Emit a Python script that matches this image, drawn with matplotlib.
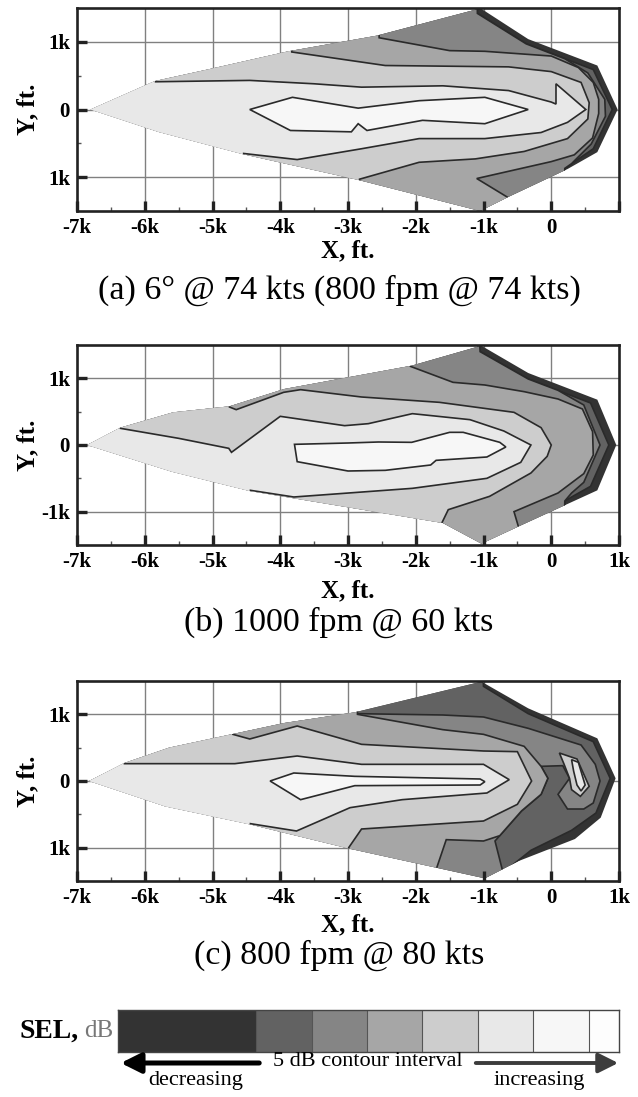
import matplotlib
matplotlib.use('Agg')
import matplotlib.pyplot as plt
from matplotlib.patches import Polygon, FancyArrowPatch

# grey for each SEL band, darkest (low) to lightest (high), 5 dB apart
SHADES = ['#333333', '#626262', '#858585', '#a6a6a6', '#cdcdcd', '#e8e8e8', '#f7f7f7', '#fdfdfd']

X_TICKS = [-7000, -6000, -5000, -4000, -3000, -2000, -1000, 0, 1000]
X_LABELS = ['-7k', '-6k', '-5k', '-4k', '-3k', '-2k', '-1k', '0', '1k']
Y_TICKS = [-1000, 0, 1000]

# ---- (a) 6 deg @ 74 kts ----  (x, y) in ft
A_ENV = [(-6800, 0), (-5850, 420), (-5030, 600), (-3880, 860), (-2580, 1090), (-1100, 1480),
         (-1050, 1500), (-340, 1040), (680, 650), (980, 0), (680, -630), (240, -880),
         (-630, -1290), (-1050, -1500), (-2850, -1040), (-4550, -660), (-5800, -330)]
A_K1 = [(-8000, 3000), (-1120, 3000), (-1090, 1420), (-370, 970), (620, 590), (900, 0),
        (620, -580), (300, -800), (200, -870), (150, -3000), (-8000, -3000)]
A_K2 = [(-8000, 3000), (-1120, 3000), (-1090, 1420), (-370, 970), (200, 750), (540, 540),
        (790, 150), (800, -100), (590, -510), (300, -800), (200, -870), (150, -3000), (-8000, -3000)]
A_LC = [(-8000, 3000), (-2600, 3000), (-2540, 1060), (-1500, 870), (-980, 860), (0, 790),
        (400, 620), (620, 400), (700, 150), (700, -60), (610, -420), (340, -670), (0, -770),
        (-1100, -1020), (-640, -1300), (-640, -3000), (-8000, -3000)]
A_LB = [(-8000, 3000), (-3900, 3000), (-3830, 850), (-2450, 650), (-630, 630), (0, 560),
        (440, 400), (560, 100), (540, -140), (240, -430), (-400, -620), (-1120, -730),
        (-1950, -780), (-2830, -1030), (-2860, -3000), (-8000, -3000)]
A_LA = [(-8000, 3000), (-5900, 3000), (-5840, 410), (-4450, 430), (-3500, 380), (-2800, 330),
        (-1600, 350), (-630, 280), (0, 110), (70, 80), (70, 380), (510, 0), (240, -190),
        (-150, -340), (-980, -430), (-1950, -430), (-2800, -580), (-3750, -740), (-4540, -650),
        (-4600, -3000), (-8000, -3000)]
A_LIN = [(-4450, 0), (-3820, 180), (-2850, 20), (-1950, 130), (-980, 180), (-340, 0), (-980, -210),
         (-1900, -160), (-2720, -310), (-2850, -210), (-2950, -330), (-3850, -310)]

# ---- (b) 1000 fpm @ 60 kts ----
B_ENV = [(-6850, 0), (-6360, 260), (-5580, 490), (-4750, 580), (-3940, 840), (-2060, 1190),
         (-1100, 1470), (-1050, 1500), (-340, 1080), (680, 680), (960, 0), (680, -680),
         (-480, -1220), (-1030, -1480), (-1600, -1170), (-4450, -690), (-5600, -400)]
B_K1 = [(-8000, 3000), (-1130, 3000), (-1050, 1400), (-340, 990), (580, 630), (850, 0),
        (580, -620), (300, -780), (200, -840), (150, -3000), (-8000, -3000)]
B_K2 = [(-8000, 3000), (-1130, 3000), (-1050, 1400), (-340, 990), (100, 820), (480, 600),
        (720, 0), (480, -560), (300, -720), (200, -840), (150, -3000), (-8000, -3000)]
B_LC = [(-8000, 3000), (-2150, 3000), (-2080, 1180), (-1450, 940), (-980, 900), (-400, 800),
        (100, 690), (460, 540), (610, 200), (620, -150), (480, -430), (100, -720), (-550, -1000),
        (-480, -1240), (-480, -3000), (-8000, -3000)]
B_LB = [(-8000, 3000), (-4780, 3000), (-4750, 570), (-4650, 530), (-3950, 790), (-3700, 830),
        (-2800, 720), (-1650, 640), (-550, 490), (-150, 260), (0, 0), (-60, -170), (-300, -420),
        (-910, -770), (-1520, -970), (-1620, -1180), (-1650, -3000), (-8000, -3000)]
B_LA = [(-8000, 3000), (-6420, 3000), (-6360, 250), (-5500, 100), (-4760, -50), (-4720, -110),
        (-4000, 430), (-3050, 290), (-2700, 320), (-2050, 470), (-1200, 380), (-700, 210),
        (-300, 0), (-450, -260), (-950, -500), (-2050, -650), (-3800, -780), (-4440, -680),
        (-4500, -3000), (-8000, -3000)]
B_LIN = [(-3790, 10), (-3000, 30), (-2550, 45), (-2060, 40), (-1500, 190), (-1300, 190),
         (-760, 40), (-670, -30), (-950, -180), (-1700, -230), (-1780, -300), (-2450, -380),
         (-3000, -390), (-3750, -250)]

# ---- (c) 800 fpm @ 80 kts ----
C_ENV = [(-6820, 0), (-6300, 270), (-5640, 500), (-3940, 870), (-2900, 1030), (-1030, 1490),
         (-340, 1090), (680, 640), (950, 40), (730, -550), (350, -870), (-480, -1200),
         (-980, -1460), (-3000, -1010), (-4450, -650), (-5700, -380)]
C_K1 = [(-8000, 3000), (-1080, 3000), (-1000, 1420), (-340, 1010), (620, 590), (870, 40),
        (660, -480), (300, -740), (-300, -1040), (-620, -1300), (-620, -3000), (-8000, -3000)]
C_K2 = [(-8000, 3000), (-2950, 3000), (-2870, 1010), (-1600, 990), (-1000, 960), (-340, 790),
        (440, 540), (650, 250), (720, 0), (620, -330), (480, -420), (240, -420), (100, -200),
        (270, 40), (170, 230), (-150, 220), (-50, 40), (-150, -200), (-440, -450), (-830, -900),
        (-720, -1340), (-720, -3000), (-8000, -3000)]
C_LC = [(-8000, 3000), (-2900, 3000), (-2860, 1000), (-1600, 770), (-1000, 700), (-400, 520),
        (-150, 220), (-50, 40), (-150, -200), (-440, -450), (-760, -820), (-1000, -900),
        (-1550, -880), (-1700, -1330), (-1700, -3000), (-8000, -3000)]
C_LB = [(-8000, 3000), (-4750, 3000), (-4700, 700), (-4450, 630), (-3750, 825), (-2800, 550),
        (-1000, 450), (-500, 440), (-290, 0), (-500, -350), (-1000, -600), (-2800, -720),
        (-2990, -1000), (-3050, -3000), (-8000, -3000)]
C_LA = [(-8000, 3000), (-6350, 3000), (-6300, 260), (-4670, 260), (-3750, 375), (-2800, 250),
        (-1000, 250), (-620, 20), (-950, -180), (-2200, -280), (-2970, -400), (-3760, -750),
        (-4440, -640), (-4500, -3000), (-8000, -3000)]
C_LIN = [(-4150, 0), (-3800, 120), (-2900, 70), (-1050, 30), (-980, -10), (-1050, -60),
         (-2900, -70), (-3700, -280)]
C_N1 = [(120, 420), (380, 330), (560, -80), (430, -230), (300, -130), (270, 40), (190, 250)]
C_N2 = [(300, 320), (400, 280), (500, -60), (440, -150), (380, -60), (330, 150)]

# legend bar
CB_EDGES = [0, 2.5, 3.5, 4.5, 5.5, 6.5, 7.5, 8.5, 9.05]

panels = [
    (A_ENV, [(A_K1, 1), (A_K2, 2), (A_LC, 3), (A_LB, 4), (A_LA, 5), (A_LIN, 6)],
     '(a) 6\u00b0 @ 74 kts (800 fpm @ 74 kts)', ['1k', '0', '1k'], False),
    (B_ENV, [(B_K1, 1), (B_K2, 2), (B_LC, 3), (B_LB, 4), (B_LA, 5), (B_LIN, 6)],
     '(b) 1000 fpm @ 60 kts', ['-1k', '0', '1k'], True),
    (C_ENV, [(C_K1, 1), (C_K2, 2), (C_LC, 3), (C_LB, 4), (C_LA, 5), (C_LIN, 6), (C_N1, 4), (C_N2, 5)],
     '(c) 800 fpm @ 80 kts', ['1k', '0', '1k'], True),
]

W, H = 638, 1097
fig = plt.figure(figsize=(W / 100, H / 100), dpi=100)
serif = 'Liberation Serif'

# axes boxes in pixels: top, bottom
boxes = [(8, 211), (345, 545), (681, 881)]
xlab_y = [251, 591, 925]
title_y = [290, 622, 955]
left, right = 77, 619

for (env, levels, title, ylabels, last_lab), (top, bot), xly, ty in zip(panels, boxes, xlab_y, title_y):
    ax = fig.add_axes([left / W, 1 - bot / H, (right - left) / W, (bot - top) / H])
    ax.set_xlim(-7000, 1000)
    ax.set_ylim(-1500, 1500)
    for x in X_TICKS[1:-1]:
        ax.axvline(x, color='#808080', lw=1.0, zorder=0.5)
    for y in Y_TICKS:
        ax.axhline(y, color='#808080', lw=1.0, zorder=0.5)

    env_patch = Polygon(env, closed=True, facecolor=SHADES[0], edgecolor='none', zorder=1)
    ax.add_patch(env_patch)
    for poly, k in levels:
        p = Polygon(poly, closed=True, facecolor=SHADES[k], edgecolor='#2a2a2a', lw=1.2, zorder=1)
        ax.add_patch(p)
        p.set_clip_path(env_patch)

    ax.set_xticks(X_TICKS)
    labs = list(X_LABELS)
    if not last_lab:
        labs[-1] = ''
    ax.set_xticklabels(labs)
    ax.set_yticks(Y_TICKS)
    ax.set_yticklabels(ylabels)
    ax.set_xticks(range(-6500, 1000, 1000), minor=True)
    ax.set_yticks([-500, 500], minor=True)
    ax.tick_params(which='major', direction='in', length=7, width=2.4, color='#222', pad=5,
                   top=False, right=False)
    ax.tick_params(which='minor', direction='in', length=3, width=1, color='#555',
                   top=False, right=False)
    for lab in ax.get_xticklabels() + ax.get_yticklabels():
        lab.set_fontfamily(serif)
        lab.set_fontweight('bold')
        lab.set_fontsize(15)
    for s in ax.spines.values():
        s.set_linewidth(1.9)
        s.set_color('#222')
        s.set_zorder(3)

    fig.text(348 / W, 1 - xly / H, 'X, ft.', ha='center', va='center',
             family=serif, weight='bold', fontsize=18)
    fig.text(28 / W, 1 - (top + bot) / 2 / H, 'Y, ft.', ha='center', va='center', rotation=90,
             family=serif, weight='bold', fontsize=18)
    fig.text(339 / W, 1 - ty / H, title, ha='center', va='center', family=serif, fontsize=24.5)

# legend bar
cax = fig.add_axes([118 / W, 1 - 1052 / H, 501 / W, 42 / H])
for i in range(len(CB_EDGES) - 1):
    cax.axvspan(CB_EDGES[i], CB_EDGES[i + 1], color=SHADES[i], lw=0)
    if i > 0:
        cax.axvline(CB_EDGES[i], color='#555', lw=0.8)
cax.set_xlim(CB_EDGES[0], CB_EDGES[-1])
cax.set_ylim(0, 1)
cax.set_xticks([])
cax.set_yticks([])
for s in cax.spines.values():
    s.set_linewidth(1.0)
    s.set_color('#444')

fig.text(79 / W, 1 - 1031 / H, 'SEL,', ha='right', va='center', family=serif, weight='bold', fontsize=20)
fig.text(84 / W, 1 - 1031 / H, 'dB', ha='left', va='center', family=serif, fontsize=18, color='#777')

ay = 1 - 1063 / H
fig.add_artist(FancyArrowPatch((262 / W, ay), (118 / W, ay), transform=fig.transFigure,
                               arrowstyle='-|>', mutation_scale=30, lw=3.6, color='black'))
fig.add_artist(FancyArrowPatch((473 / W, ay), (621 / W, ay), transform=fig.transFigure,
                               arrowstyle='-|>', mutation_scale=30, lw=2.8, color='#3c3c3c'))
fig.text(368 / W, 1 - 1061 / H, '5 dB contour interval', ha='center', va='center', family=serif, fontsize=16)
fig.text(196 / W, 1 - 1080 / H, 'decreasing', ha='center', va='center', family=serif, fontsize=16)
fig.text(539 / W, 1 - 1080 / H, 'increasing', ha='center', va='center', family=serif, fontsize=16)

fig.savefig('out.png', dpi=100)
